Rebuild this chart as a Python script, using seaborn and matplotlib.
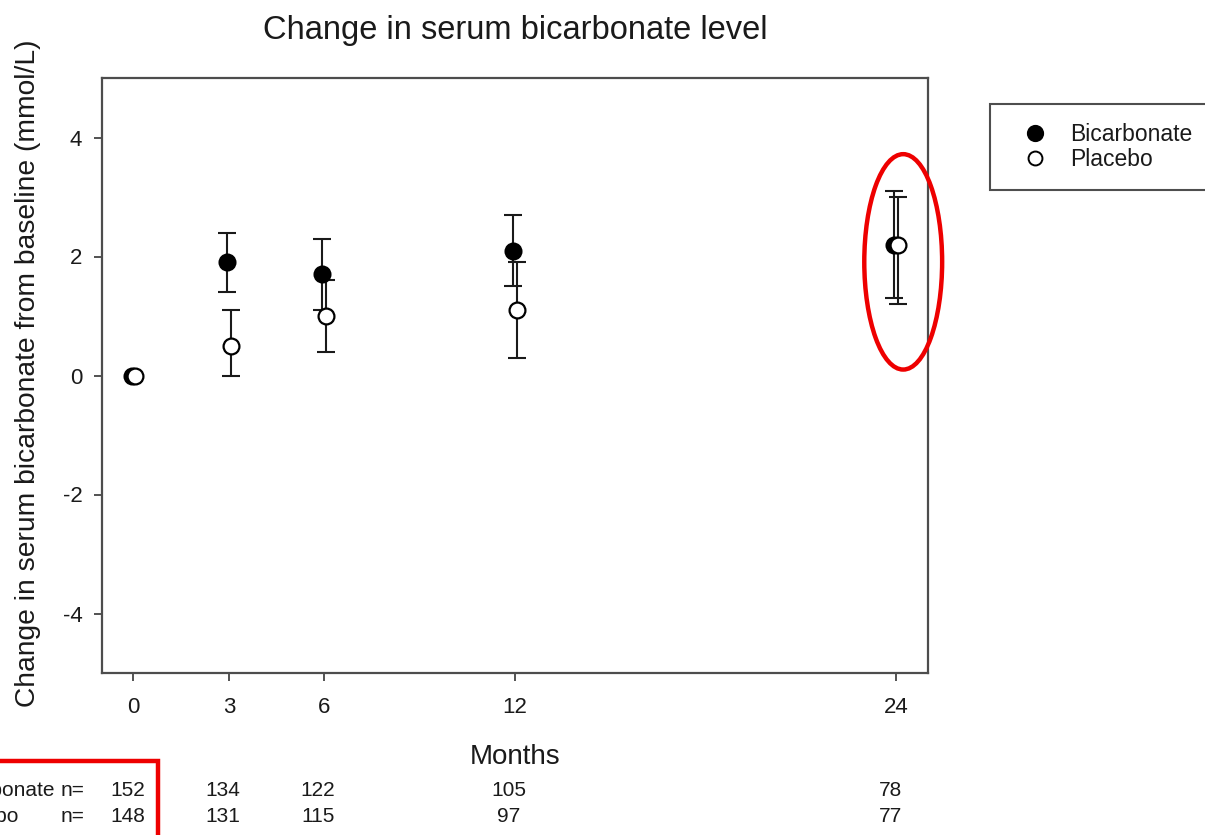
import numpy as np
import pandas as pd
import matplotlib
matplotlib.use("Agg")
import matplotlib.pyplot as plt
import matplotlib.transforms as mtransforms
from matplotlib.lines import Line2D
from matplotlib.patches import Ellipse, Rectangle
import seaborn as sns

# Visit schedule (months) and summary statistics per arm
months = [0, 3, 6, 12, 24]
month_labels = ["0", "3", "6", "12", "24"]

bic_mean = [0.0, 1.9, 1.7, 2.1, 2.2]
bic_low = [0.0, 1.4, 1.1, 1.5, 1.3]
bic_high = [0.0, 2.4, 2.3, 2.7, 3.1]

pla_mean = [0.0, 0.5, 1.0, 1.1, 2.2]
pla_low = [0.0, 0.0, 0.4, 0.3, 1.2]
pla_high = [0.0, 1.1, 1.6, 1.9, 3.0]

# Number of patients at each visit
bic_n = [152, 134, 122, 105, 78]
pla_n = [148, 131, 115, 97, 77]

groups = ["Bicarbonate", "Placebo"]
y_ticks = [-4, -2, 0, 2, 4]

sns.set_theme(style="ticks")
plt.rcParams["font.family"] = ["Liberation Sans", "DejaVu Sans"]
plt.rcParams["axes.unicode_minus"] = False

fig = plt.figure(figsize=(12.05, 8.35), dpi=100)
ax = fig.add_axes([101.7 / 1205, 1 - 673 / 835, (928 - 101.7) / 1205, (673 - 78) / 835])

dodge = {"Bicarbonate": -0.06, "Placebo": 0.06}
series = {
    "Bicarbonate": (bic_mean, bic_low, bic_high, "black"),
    "Placebo": (pla_mean, pla_low, pla_high, "white"),
}

for name in groups:
    mean, low, high, face = series[name]
    df = pd.DataFrame({"month": months, "mean": mean, "low": low, "high": high})
    df["x"] = df["month"] + dodge[name]
    bars = df[df["high"] > df["low"]]
    ax.errorbar(bars["x"], bars["mean"],
                yerr=[bars["mean"] - bars["low"], bars["high"] - bars["mean"]],
                fmt="none", ecolor="#1a1a1a", elinewidth=1.5, capsize=6.5,
                capthick=1.5, zorder=2)
    sns.scatterplot(data=df, x="x", y="mean", ax=ax, marker="o", s=130,
                    color=face, edgecolor="black", linewidth=1.6, zorder=3,
                    legend=False)

ax.set_xlim(-1, 25)
ax.set_ylim(-5, 5)
ax.set_xticks(months)
ax.set_xticklabels(month_labels)
ax.set_yticks(y_ticks)
ax.tick_params(axis="both", direction="out", length=6, width=1.3,
               color="#444444", labelsize=16, labelcolor="#1a1a1a")
ax.tick_params(axis="x", pad=11)
ax.tick_params(axis="y", pad=8)
for sp in ax.spines.values():
    sp.set_visible(True)
    sp.set_color("#4d4d4d")
    sp.set_linewidth(1.6)

ax.set_title("Change in serum bicarbonate level", fontsize=23.5, pad=28,
             color="#1a1a1a")
ax.set_xlabel("Months", fontsize=20, color="#1a1a1a")
ax.xaxis.set_label_coords(0.5, (673 - 757) / 595)
ax.xaxis.label.set_va("center")
ax.set_ylabel("Change in serum bicarbonate from baseline (mmol/L)",
              fontsize=20.3, color="#1a1a1a")
ax.yaxis.set_label_coords((28 - 101.7) / 826.3, (673 - 373) / 595)
ax.yaxis.label.set_va("center")

# Legend box at the upper right
handles = [
    Line2D([], [], linestyle="none", marker="o", markersize=11,
           markerfacecolor="black", markeredgecolor="black", markeredgewidth=1.4),
    Line2D([], [], linestyle="none", marker="o", markersize=10,
           markerfacecolor="white", markeredgecolor="black", markeredgewidth=1.4),
]
leg = fig.legend(handles, groups, loc="upper left",
                 bbox_to_anchor=(990 / 1205, 1 - 104 / 835), fontsize=16.5,
                 frameon=True, fancybox=False, borderpad=0.85, labelspacing=0.05,
                 handlelength=2.2, handletextpad=0.45, borderaxespad=0)
leg.get_frame().set_edgecolor("#222222")
leg.get_frame().set_linewidth(1.5)
for t in leg.get_texts():
    t.set_color("#1a1a1a")

# Patients-at-risk table under the x axis
shift = mtransforms.ScaledTranslation(-6 / 100, 0, fig.dpi_scale_trans)
row_tf = mtransforms.blended_transform_factory(ax.transData, fig.transFigure) + shift
row_y = [1 - 790 / 835, 1 - 817 / 835]
for yy, name, counts in zip(row_y, groups, [bic_n, pla_n]):
    fig.text(-57 / 1205, yy, name, fontsize=15, ha="left", va="center",
             color="#1a1a1a")
    fig.text(61 / 1205, yy, "n=", fontsize=15, ha="left", va="center",
             color="#1a1a1a")
    for m, c in zip(months, counts):
        fig.text(m, yy, str(c), transform=row_tf, fontsize=15, ha="center",
                 va="center", color="#1a1a1a")

# Highlight marks
ax.add_patch(Ellipse((24.22, 1.91), 2.45, 3.62, fill=False, edgecolor="#ee0000",
                     linewidth=3.2, clip_on=False, zorder=5))
fig.add_artist(Rectangle((-0.02, -0.02), 157.5 / 1205 + 0.02, 0.0886 + 0.02,
                         transform=fig.transFigure, fill=False,
                         edgecolor="#ee0000", linewidth=3.2))

fig.savefig("out.png", dpi=100)
